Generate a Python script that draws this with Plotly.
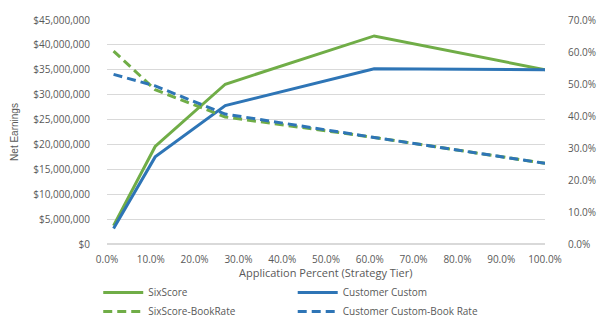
import plotly.graph_objects as go

x_pct = [0.015, 0.11, 0.27, 0.61, 1.00]
sixscore = [3.7e6, 19.6e6, 32.1e6, 41.8e6, 35.0e6]
custom = [3.1e6, 17.5e6, 27.8e6, 35.2e6, 35.0e6]
sixscore_book = [0.603, 0.482, 0.397, 0.333, 0.252]
custom_book = [0.530, 0.494, 0.406, 0.333, 0.252]

GREEN = "#70AD47"
BLUE = "#2E75B6"
GREY = "#595959"
FONT = "Open Sans"

fig = go.Figure()
fig.add_trace(go.Scatter(x=x_pct, y=sixscore, mode="lines", name="SixScore",
                         line=dict(color=GREEN, width=3), legend="legend"))
fig.add_trace(go.Scatter(x=x_pct, y=custom, mode="lines", name="Customer Custom",
                         line=dict(color=BLUE, width=3), legend="legend2"))
fig.add_trace(go.Scatter(x=x_pct, y=sixscore_book, mode="lines", name="SixScore-BookRate",
                         yaxis="y2", line=dict(color=GREEN, width=3, dash="9px,5px"), legend="legend"))
fig.add_trace(go.Scatter(x=x_pct, y=custom_book, mode="lines", name="Customer Custom-Book Rate",
                         yaxis="y2", line=dict(color=BLUE, width=3, dash="9px,5px"), legend="legend2"))

leg_common = dict(orientation="v", xanchor="left", yref="container", y=0.0, yanchor="bottom",
                  font=dict(size=10, color=GREY), tracegroupgap=0, itemwidth=40,
                  bgcolor="rgba(0,0,0,0)")

fig.update_layout(
    width=608, height=326,
    margin=dict(l=107, r=46, t=15, b=14),
    paper_bgcolor="white", plot_bgcolor="white",
    font=dict(family=FONT, size=10, color=GREY),
    showlegend=True,
    legend=dict(x=-0.02, **leg_common),
    legend2=dict(x=0.424, **leg_common),
    xaxis=dict(range=[0, 1], dtick=0.1, tick0=0, tickformat=".1%",
               showgrid=False, zeroline=False, showline=False,
               ticks="outside", ticklen=6, tickcolor="rgba(0,0,0,0)",
               tickfont=dict(size=10, color=GREY)),
    yaxis=dict(range=[0, 45e6], dtick=5e6, tickprefix="$", tickformat=",.0f",
               showgrid=True, gridcolor="#D9D9D9", gridwidth=1, zeroline=True,
               zerolinecolor="#D9D9D9", showline=False,
               ticks="outside", ticklen=14, tickcolor="rgba(0,0,0,0)",
               title=dict(text="Net Earnings", font=dict(family="Liberation Sans Narrow, Liberation Sans", size=10, color=GREY), standoff=12),
               tickfont=dict(size=10, color=GREY)),
    yaxis2=dict(range=[0, 0.7], dtick=0.1, tickformat=".1%", overlaying="y", side="right",
                showgrid=False, zeroline=False, showline=False,
                ticks="outside", ticklen=20, tickcolor="rgba(0,0,0,0)",
                tickfont=dict(size=10, color=GREY)),
    annotations=[dict(text="Application Percent (Strategy Tier)", xref="paper", yref="paper",
                      x=0.5, y=-0.128, xanchor="center", yanchor="middle", showarrow=False,
                      font=dict(size=11, color=GREY))],
)

fig.write_html("out.html")
